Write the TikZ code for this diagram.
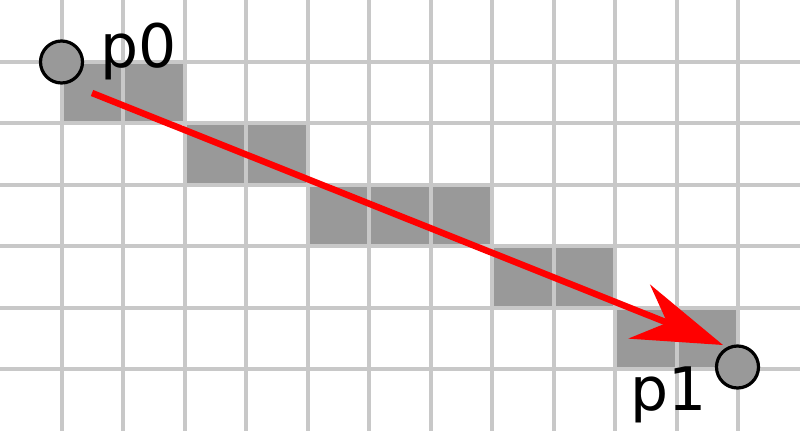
\documentclass[tikz,border=0pt]{standalone}
\usepackage{fontspec}
\setmainfont{DejaVu Sans}
\usetikzlibrary{arrows.meta}
\definecolor{gridc}{HTML}{C8C8C8}
\definecolor{cellc}{HTML}{999999}
\definecolor{arrc}{HTML}{FF0000}
\begin{document}
\begin{tikzpicture}[x=1pt,y=-1pt,
  cell/.style={fill=cellc},
  gridline/.style={draw=gridc,line width=4pt},
  point/.style={circle,draw=black,line width=3.2pt,fill=cellc,minimum size=42pt,inner sep=0pt},
  lbl/.style={font=\fontsize{60}{64}\selectfont,anchor=base,inner sep=0pt},
  conn/.style={draw=arrc,line width=6.5pt,-{Stealth[length=90pt,width=58pt,inset=30pt]}}]
\useasboundingbox (0,0) rectangle (800,431);
\clip (0,0) rectangle (800,431);
\fill[white] (0,0) rectangle (800,431);
\def\s{61.54}
% filled cells
\foreach \c/\r in {1/1,2/1,3/2,4/2,5/3,6/3,7/3,8/4,9/4,10/5,11/5}
  \fill[cell] ({\c*\s},{\r*\s}) rectangle ({(\c+1)*\s},{(\r+1)*\s});
% grid
\foreach \k in {1,...,12}
  \draw[gridline] ({\k*\s},0) -- ({\k*\s},431);
\foreach \k in {1,...,6}
  \draw[gridline] (0,{\k*\s}) -- (800,{\k*\s});
% points
\node[point] (p0) at (61.5,62) {};
\node[point] (p1) at (737.5,367) {};
\node[lbl] (l0) at (139,67) {p0};
\node[lbl] (l1) at (669,410) {p1};
\coordinate (a) at (92,93);
\coordinate (b) at (723,345);
\draw[conn] (a) -- (b);
\end{tikzpicture}
\end{document}
